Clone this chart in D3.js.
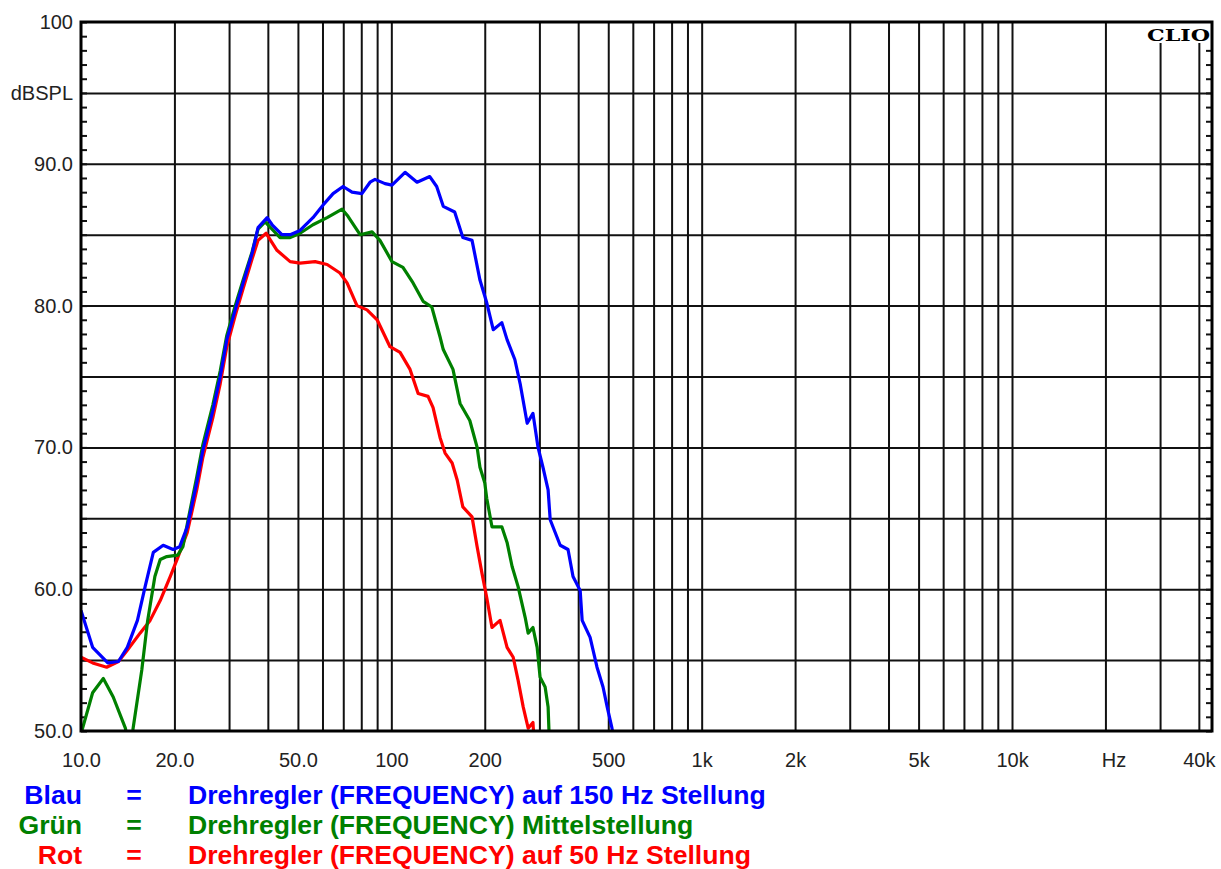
<!DOCTYPE html>
<html>
<head>
<meta charset="utf-8">
<script src="https://cdn.jsdelivr.net/npm/d3@7"></script>
<style>
  body { margin: 0; background: #fff; }
  .tickText { font-family: Arial, "Liberation Sans", sans-serif; font-size: 20px; fill: #222; }
  .legText { font-family: Arial, "Liberation Sans", sans-serif; font-size: 26.6px; font-weight: bold; }
</style>
</head>
<body>
<div id="chart"></div>
<script>
// Data (Hz, dBSPL)
var blueFreq = [10, 10.9, 12.2, 13.2, 14.1, 15.2, 16.1, 17.1, 18.4, 19.8,
  20.8, 22.0, 23.6, 24.7, 26.6, 28.1, 29.5, 31.4, 33.3, 35.6,
  37.2, 39.8, 41.3, 44.4, 47.2, 50.8, 55.9, 60.3, 64.9, 69.9,
  74.7, 80.4, 85.4, 88.6, 95.4, 100.5, 110.7, 121, 133, 140,
  147, 160, 170, 182, 193, 203, 213, 227, 236, 250,
  260, 274, 286, 297, 308, 320, 325, 350, 371, 385,
  406, 412, 437, 460, 481, 496, 514, 520];
var blueDb = [58.5, 55.9, 54.8, 54.9, 55.9, 57.8, 60.2, 62.6, 63.1, 62.8,
  63.0, 64.4, 67.5, 69.8, 72.6, 75.0, 77.6, 79.7, 81.6, 83.7,
  85.5, 86.2, 85.7, 85.0, 85.0, 85.3, 86.2, 87.1, 87.9, 88.4,
  88.0, 87.9, 88.7, 88.9, 88.6, 88.5, 89.4, 88.7, 89.1, 88.4,
  87.0, 86.6, 84.8, 84.6, 81.8, 80.2, 78.3, 78.8, 77.6, 76.2,
  74.5, 71.7, 72.4, 70.0, 68.6, 67.0, 64.9, 63.1, 62.8, 60.9,
  59.9, 57.8, 56.6, 54.5, 53.1, 51.7, 50.2, 49.5];

var greenFreq = [10, 10.9, 11.8, 12.7, 13.9, 14.3, 14.7, 15.7, 16.4, 17.3,
  18.0, 18.9, 20.5, 21.3, 22.0, 23.6, 24.7, 26.6, 28.1, 29.5,
  31.4, 33.3, 35.6, 37.2, 39.2, 43.8, 47.2, 50.8, 55.9, 62.1,
  69.4, 72.5, 79.3, 86.7, 91.9, 100.5, 109, 117.5, 126.6, 135,
  143.5, 147, 158, 166.5, 179, 189, 193, 200, 203, 211,
  227, 236, 245, 256, 270, 276, 286, 295, 301.5, 313,
  320, 322, 324];
var greenDb = [49.8, 52.7, 53.7, 52.4, 50.2, 48.8, 50.1, 54.3, 57.8, 60.9,
  62.1, 62.3, 62.4, 63.0, 64.6, 67.9, 70.2, 73.0, 75.4, 77.9,
  80.0, 81.8, 83.8, 85.4, 85.9, 84.8, 84.8, 85.1, 85.7, 86.2,
  86.8, 86.3, 85.0, 85.2, 84.6, 83.1, 82.7, 81.6, 80.3, 79.9,
  77.8, 76.9, 75.5, 73.1, 71.9, 70.0, 68.6, 67.5, 66.4, 64.4,
  64.4, 63.3, 61.6, 60.2, 58.0, 56.9, 57.3, 55.9, 53.8, 53.1,
  51.7, 50.1, 49.5];

var redFreq = [10, 10.9, 12.1, 13.2, 14.1, 15.5, 16.7, 18.0, 19.4, 20.4,
  22.0, 23.6, 24.7, 26.6, 28.1, 29.5, 31.4, 33.3, 35.6, 37.2,
  39.5, 42.8, 47.2, 50.8, 56.8, 62.1, 68.3, 72.0, 77.5, 83.5,
  90, 99, 106.7, 114.9, 122, 131.3, 136.3, 143.5, 149, 157,
  163, 170, 182, 189, 196, 203, 211, 224, 236, 247,
  256, 266, 276, 286, 288];
var redDb = [55.2, 54.8, 54.5, 54.9, 55.7, 56.9, 57.8, 59.2, 60.9, 62.1,
  64.0, 67.0, 69.3, 72.1, 74.5, 77.1, 79.3, 81.2, 83.3, 84.6,
  85.1, 83.9, 83.1, 83.0, 83.1, 82.9, 82.3, 81.6, 80.0, 79.7,
  79.0, 77.1, 76.7, 75.5, 73.8, 73.6, 72.8, 70.7, 69.6, 68.9,
  67.7, 65.8, 65.1, 63.0, 61.1, 59.4, 57.3, 57.8, 55.9, 55.2,
  53.6, 51.7, 50.2, 50.6, 49.5];

// tick labels
var yLabelVals = [100, 95, 90, 80, 70, 60, 50];
var yLabelText = ["100", "dBSPL", "90.0", "80.0", "70.0", "60.0", "50.0"];
var xLabelVals = [10, 20, 50, 100, 200, 500, 1000, 2000, 5000, 10000, 20000, 40000];
var xLabelText = ["10.0", "20.0", "50.0", "100", "200", "500", "1k", "2k", "5k", "10k", "Hz", "40k"];
var xGridVals = [20, 30, 40, 50, 60, 70, 80, 90, 100, 200, 300, 400, 500, 600, 700, 800, 900,
  1000, 2000, 3000, 4000, 5000, 6000, 7000, 8000, 9000, 10000, 20000, 30000, 40000];

var legendNames = ["Blau", "Grün", "Rot"];
var legendTexts = ["Drehregler (FREQUENCY) auf 150 Hz Stellung",
  "Drehregler (FREQUENCY) Mittelstellung",
  "Drehregler (FREQUENCY) auf 50 Hz Stellung"];
var colors = ["#0000ff", "#008000", "#ff0000"];

// Section 1: setup
var width = 1221;
var height = 869;
var plotL = 81, plotR = 1212, plotT = 22, plotB = 731;

var svg = d3.select("#chart")
  .append("svg")
  .attr("width", width)
  .attr("height", height);

var x = d3.scaleLog().domain([10, 44100]).range([plotL, plotR]);
var y = d3.scaleLinear().domain([50, 100]).range([plotB, plotT]);

function styleLines(g) {
  g.select(".domain").remove();
  g.selectAll("line").attr("stroke", "#111").attr("stroke-width", 2);
}

// Grid lines
svg.append("g")
  .attr("transform", "translate(0," + plotB + ")")
  .call(d3.axisBottom(x).tickValues(xGridVals).tickSize(-(plotB - plotT)).tickFormat(""))
  .call(styleLines);

svg.append("g")
  .attr("transform", "translate(" + plotL + ",0)")
  .call(d3.axisLeft(y).tickValues(d3.range(55, 100, 5)).tickSize(-(plotR - plotL)).tickFormat(""))
  .call(styleLines);

// minor ticks, 1 dB, both sides
svg.append("g")
  .attr("transform", "translate(" + plotL + ",0)")
  .call(d3.axisLeft(y).tickValues(d3.range(50, 101, 1)).tickSize(-6).tickFormat(""))
  .call(styleLines);

svg.append("g")
  .attr("transform", "translate(" + plotR + ",0)")
  .call(d3.axisRight(y).tickValues(d3.range(50, 101, 1)).tickSize(-6).tickFormat(""))
  .call(styleLines);

// curves, clipped to the plot box
svg.append("clipPath").attr("id", "plotClip")
  .append("rect")
  .attr("x", plotL).attr("y", plotT)
  .attr("width", plotR - plotL).attr("height", plotB - plotT);

var line = d3.line()
  .x(function(d) { return x(d[0]); })
  .y(function(d) { return y(d[1]); });

var series = [
  { f: redFreq, v: redDb, c: colors[2] },
  { f: greenFreq, v: greenDb, c: colors[1] },
  { f: blueFreq, v: blueDb, c: colors[0] }
];

svg.append("g").attr("clip-path", "url(#plotClip)")
  .selectAll("path")
  .data(series)
  .enter()
  .append("path")
  .attr("d", function(s) { return line(d3.zip(s.f, s.v)); })
  .attr("fill", "none")
  .attr("stroke", function(s) { return s.c; })
  .attr("stroke-width", 3.2)
  .attr("stroke-linejoin", "round");

// CLIO badge
svg.append("rect")
  .attr("x", 1145).attr("y", plotT + 1)
  .attr("width", plotR - 1145 - 1).attr("height", 20)
  .attr("fill", "#fff");
svg.append("text")
  .attr("x", 1147).attr("y", 41)
  .attr("textLength", 63)
  .attr("lengthAdjust", "spacingAndGlyphs")
  .style("font-family", "'DejaVu Serif', 'Liberation Serif', serif")
  .style("font-weight", "bold")
  .style("font-size", "17px")
  .attr("fill", "#000")
  .text("CLIO");

// frame
svg.append("rect")
  .attr("x", plotL).attr("y", plotT)
  .attr("width", plotR - plotL).attr("height", plotB - plotT)
  .attr("fill", "none")
  .attr("stroke", "#000")
  .attr("stroke-width", 3);

// Y labels
svg.append("g")
  .attr("transform", "translate(" + (plotL - 8) + ",0)")
  .call(d3.axisLeft(y).tickValues(yLabelVals).tickSize(0).tickPadding(0)
    .tickFormat(function(d, i) { return yLabelText[i]; }))
  .call(function(g) { g.select(".domain").remove(); g.attr("font-size", null).attr("font-family", null); })
  .selectAll("text")
  .attr("class", "tickText");

// X labels
svg.append("g")
  .attr("transform", "translate(0," + (plotB + 22) + ")")
  .call(d3.axisBottom(x).tickValues(xLabelVals).tickSize(0).tickPadding(0)
    .tickFormat(function(d, i) { return xLabelText[i]; }))
  .call(function(g) { g.select(".domain").remove(); g.attr("font-size", null).attr("font-family", null); })
  .selectAll("text")
  .attr("class", "tickText")
  .attr("dx", function(d) { return d === 20000 ? 8 : 0; });

d3.selectAll(".tick text").attr("fill", null);

// Legend
var leg = svg.append("g");
legendNames.forEach(function(name, i) {
  var yy = 804 + i * 30;
  leg.append("text").attr("class", "legText").attr("x", 82).attr("y", yy)
    .attr("text-anchor", "end").attr("fill", colors[i]).text(name);
  leg.append("text").attr("class", "legText").attr("x", 134).attr("y", yy)
    .attr("text-anchor", "middle").attr("fill", colors[i]).text("=");
  leg.append("text").attr("class", "legText").attr("x", 188).attr("y", yy)
    .attr("fill", colors[i]).text(legendTexts[i]);
});
</script>
</body>
</html>
